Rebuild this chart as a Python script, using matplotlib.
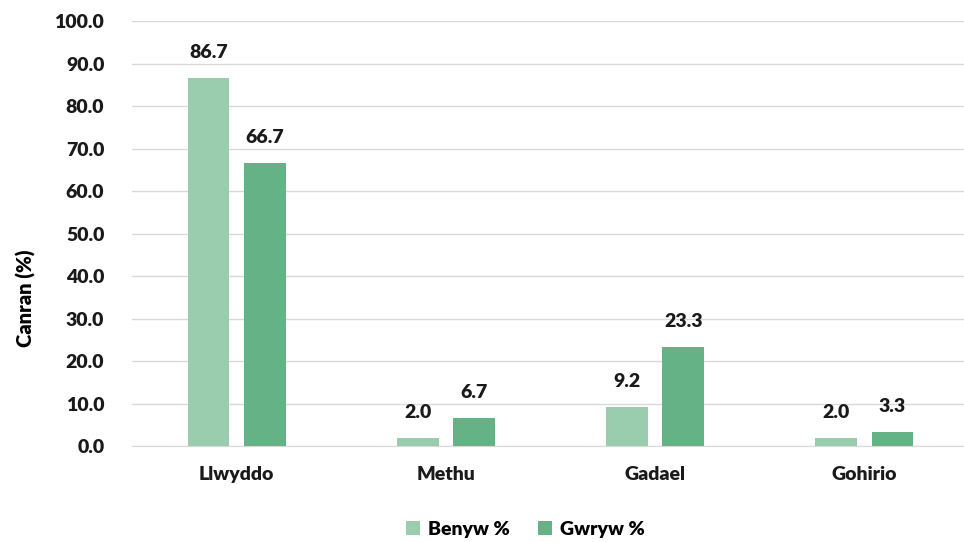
import numpy as np
import matplotlib.pyplot as plt

categories = ['Llwyddo', 'Methu', 'Gadael', 'Gohirio']
benyw = [86.7, 2.0, 9.2, 2.0]
gwryw = [66.7, 6.7, 23.3, 3.3]
series_names = ['Benyw %', 'Gwryw %']

plt.rcParams['font.family'] = ['Lato', 'DejaVu Sans']
plt.rcParams['font.weight'] = 'heavy'

fig = plt.figure(figsize=(9.64, 5.42), dpi=100)
ax = fig.add_axes([0.137, 0.177, 0.868, 0.784])

x = np.arange(len(categories))
w = 0.2
off = 0.135
b1 = ax.bar(x - off, benyw, w, color='#9ACDAE', label=series_names[0], zorder=3)
b2 = ax.bar(x + off, gwryw, w, color='#66B287', label=series_names[1], zorder=3)

for bars in (b1, b2):
    ax.bar_label(bars, fmt='%.1f', padding=12, fontsize=14, fontweight='heavy', color='#1a1a1a')

ax.set_xlim(-0.5, 3.5)
ax.set_ylim(0, 100)
ax.set_yticks(np.arange(0, 101, 10))
ax.set_yticklabels([f'{v:.1f}' for v in np.arange(0, 101, 10)])
ax.set_xticks(x)
ax.set_xticklabels(categories)
ax.tick_params(axis='both', length=0, labelsize=14, colors='#1a1a1a')
ax.tick_params(axis='x', pad=14)
ax.tick_params(axis='y', pad=20)
ax.grid(axis='y', color='#d9d9d9', linewidth=1, zorder=0)
for s in ['top', 'right', 'left']:
    ax.spines[s].set_visible(False)
ax.spines['bottom'].set_color('#d9d9d9')

ax.set_ylabel('Canran (%)', fontsize=14.5, fontweight='heavy')
ax.yaxis.set_label_coords(-0.115, 0.348)

fig.legend(loc='lower center', ncol=2, frameon=False, fontsize=14,
           bbox_to_anchor=(0.545, -0.025), handlelength=0.7, handleheight=0.7,
           columnspacing=1.5, handletextpad=0.4)

fig.savefig('out.png', dpi=100)
